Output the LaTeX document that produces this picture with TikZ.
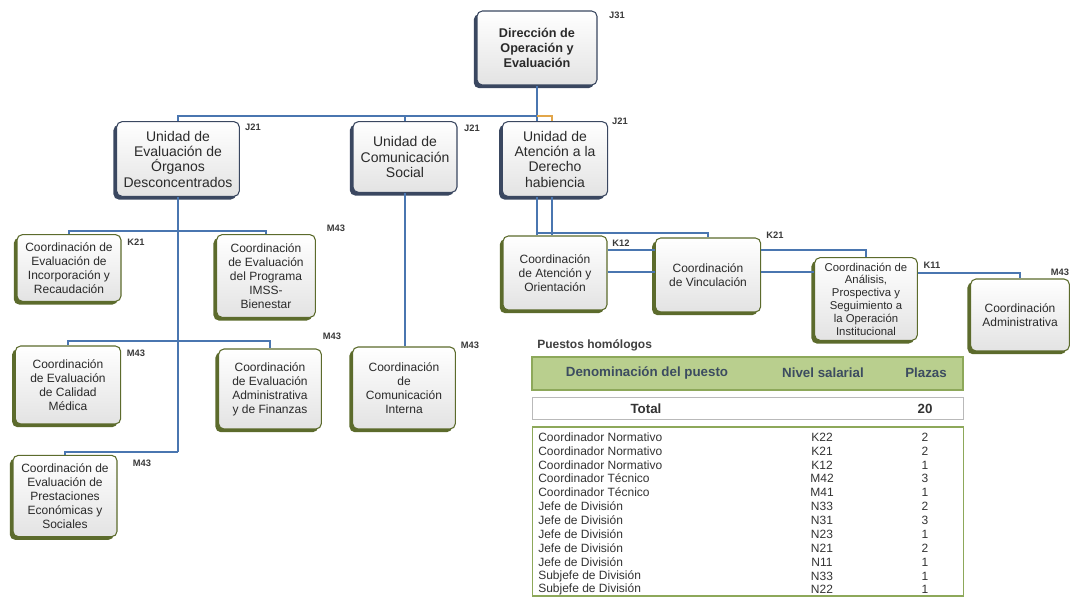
\documentclass[tikz,border=0pt]{standalone}
\usepackage{fontspec}
\setmainfont{Liberation Sans}
\usetikzlibrary{shadows,calc}
\definecolor{bluebd}{HTML}{3A4760}
\definecolor{greenbd}{HTML}{5C6B2C}
\definecolor{connc}{HTML}{4A76B0}
\definecolor{orangeln}{HTML}{E2A64A}
\definecolor{txt}{HTML}{2A2A2A}
\definecolor{hdrfill}{HTML}{B9CF8E}
\definecolor{hdrbd}{HTML}{8DA85A}
\definecolor{hdrtxt}{HTML}{3C4C60}
\definecolor{lbl}{HTML}{3A3A3A}
\tikzset{
  orgbox/.style={draw=#1, line width=0.8pt, rounded corners=4pt, top color=white, bottom color=gray!22,
    align=center, inner sep=1pt, text=txt,
    drop shadow={shadow xshift=-2.4pt, shadow yshift=-2.4pt, opacity=1, fill=#1}},
  bbox/.style={orgbox=bluebd},
  gbox/.style={orgbox=greenbd},
  dims/.style 2 args={minimum width=#1pt, minimum height=#2pt},
  fa/.style={font=\fontsize{10.5}{11.5}\selectfont},
  fb/.style={font=\fontsize{9}{10.5}\selectfont},
  fc/.style={font=\fontsize{8.5}{9.6}\selectfont},
  lvl/.style={font=\fontsize{7}{8}\selectfont\bfseries, text=lbl, inner sep=0pt},
  link/.style={draw=connc, line width=1.5pt},
  olink/.style={draw=orangeln, line width=1.5pt},
  htxt/.style={font=\fontsize{10}{11}\selectfont\bfseries, text=hdrtxt},
  rowtxt/.style={font=\fontsize{9}{10}\selectfont, text=black!80, inner sep=0pt},
}
\begin{document}
\begin{tikzpicture}[x=0.75pt,y=-0.75pt]
\useasboundingbox[fill=white] (0,0) rectangle (1072,598);

% ---- boxes ----
\node[bbox, dims={90}{55.5}, font=\fontsize{9.5}{11}\selectfont\bfseries] (dir) at (537,48) {Dirección de\\Operación y\\Evaluación};
\node[bbox, fa, dims={92}{56}] (u1) at (178,159) {Unidad de\\Evaluación de\\Órganos\\Desconcentrados};
\node[bbox, fa, dims={78}{53}] (u2) at (405,157) {Unidad de\\Comunicación\\Social};
\node[bbox, fa, dims={79}{56}] (u3) at (555,159) {Unidad de\\Atención a la\\Derecho\\habiencia};

\node[gbox, fb, dims={78}{50}] (c1) at (69,268) {Coordinación de\\Evaluación de\\Incorporación y\\Recaudación};
\node[gbox, fb, dims={74}{62}] (c2) at (266,276) {Coordinación\\de Evaluación\\del Programa\\IMSS-\\Bienestar};
\node[gbox, fb, dims={79}{58.5}] (c3) at (68,385) {Coordinación\\de Evaluación\\de Calidad\\Médica};
\node[gbox, fb, dims={77}{60}] (c4) at (270,389) {Coordinación\\de Evaluación\\Administrativa\\y de Finanzas};
\node[gbox, fb, dims={77}{61.5}] (c5) at (404,388) {Coordinación\\de\\Comunicación\\Interna};
\node[gbox, fb, dims={78}{61}] (c6) at (65,496) {Coordinación de\\Evaluación de\\Prestaciones\\Económicas y\\Sociales};
\node[gbox, fb, dims={78}{55.5}] (c7) at (555,273) {Coordinación\\de Atención y\\Orientación};
\node[gbox, fb, dims={79}{55.5}] (c8) at (708,275) {Coordinación\\de Vinculación};
\node[gbox, fc, dims={77}{62}] (c9) at (866,299) {Coordinación de\\Análisis,\\Prospectiva y\\Seguimiento a\\la Operación\\Institucional};
\node[gbox, fb, dims={74}{54}] (c10) at (1020,315) {Coordinación\\Administrativa};

% ---- level labels ----
\node[lvl] (l0) at (617,15) {J31};
\node[lvl] (l1) at (253,127) {J21};
\node[lvl] (l2) at (472,128) {J21};
\node[lvl] (l3) at (620,121) {J21};
\node[lvl] (l4) at (136,242) {K21};
\node[lvl] (l5) at (336,228) {M43};
\node[lvl] (l6) at (136,353) {M43};
\node[lvl] (l7) at (332,336) {M43};
\node[lvl] (l8) at (470,345) {M43};
\node[lvl] (l9) at (142,463) {M43};
\node[lvl] (l10) at (621,243) {K12};
\node[lvl] (l11) at (775,235) {K21};
\node[lvl] (l12) at (932,265) {K11};
\node[lvl] (l13) at (1060,272) {M43};

% ---- connectors ----
\coordinate (hub) at (537,116);
\draw[link] (dir.south) -- (dir.south |- u3.north);
\draw[link] (u1.north) |- (hub);
\draw[link] (u2.north) -- (u2.north |- hub);
\draw[olink] (hub) -| ($(u3.north)+(-3,0)$);

\draw[link] (u1.south) -- (u1.south |- 0,452);
\draw[link] (c1.north) |- (u1.south |- 0,231) -| (c2.north);
\draw[link] (c3.north) |- (u1.south |- 0,341) -| (c4.north);
\draw[link] (c6.north) |- (u1.south |- 0,452);
\draw[link] (u2.south) -- (u2.south |- c5.north);

\draw[link] ($(u3.south)+(-3,0)$) -- ($(c7.north)+(-3,0)$);
\draw[link] ($(u3.south)+(-18,0)$) -- ($(c7.north)+(-18,0)$);
\draw[link] ($(u3.south)+(-18,36)$) -| (c8.north);
\draw[link] (c7.east |- 0,250) -- (c8.west |- 0,250);
\draw[link] (c7.east |- 0,272) -- (c8.west |- 0,272);
\draw[link] (c8.east |- 0,250) -| (c9.north);
\draw[link] (c8.east |- 0,272) -- (c9.west |- 0,272);
\draw[link] (c9.east |- 0,273) -| (c10.north);

% ---- table ----
\node[font=\fontsize{9}{10}\selectfont\bfseries, text=black!75, anchor=west, inner sep=0pt] (ttl) at (537,345) {Puestos homólogos};
\node[draw=hdrbd, line width=1pt, fill=hdrfill, minimum width=323.25pt, minimum height=24.75pt] (hdr) at (747.5,373.5) {};
\node[htxt] (hd1) at (647,373) {Denominación del puesto};
\node[htxt] (hd2) at (823,373) {Nivel salarial};
\node[htxt] (hd3) at (926,373) {Plazas};
\node[draw=gray!55, line width=0.6pt, fill=white, minimum width=323.25pt, minimum height=17pt] (tot) at (747.5,408.5) {};
\node[htxt, text=black!80] (tt1) at (646,409) {Total};
\node[htxt, text=black!80] (tt2) at (925,409) {20};
\node[draw=hdrbd, line width=0.8pt, minimum width=323.25pt, minimum height=126.75pt] (body) at (748,511.5) {};
\foreach \i/\a/\b/\c/\y in {
  1/Coordinador Normativo/K22/2/437,
  2/Coordinador Normativo/K21/2/451,
  3/Coordinador Normativo/K12/1/465,
  4/Coordinador Técnico/M42/3/478,
  5/Coordinador Técnico/M41/1/492,
  6/Jefe de División/N33/2/506,
  7/Jefe de División/N31/3/520,
  8/Jefe de División/N23/1/534,
  9/Jefe de División/N21/2/548,
  10/Jefe de División/N11/1/562,
  11/Subjefe de División/N33/1/576,
  12/Subjefe de División/N22/1/589}{
  \node[rowtxt, anchor=west] (ra\i) at (538,\y) {\a};
  \node[rowtxt] (rb\i) at (822,\y) {\b};
  \node[rowtxt] (rc\i) at (925,\y) {\c};
}
\end{tikzpicture}
\end{document}
